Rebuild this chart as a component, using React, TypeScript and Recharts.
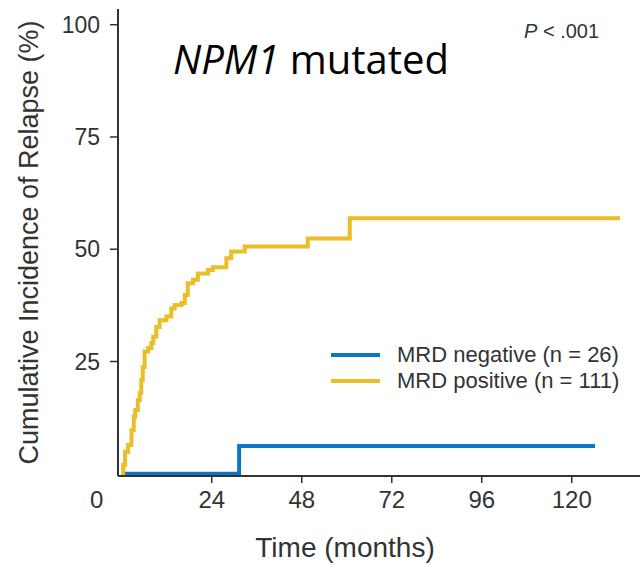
import React from 'react';
import { LineChart, Line, XAxis, YAxis, Legend } from 'recharts';

// Cumulative incidence of relapse, NPM1-mutated AML, by MRD status
const monthTicks = [0, 24, 48, 72, 96, 120];
const cirTicks = [25, 50, 75, 100];

const negTimes = [0, 31.3, 126.2];
const negCir = [0, 6.2, 6.2];

const posTimes = [
  0, 0.4, 0.9, 1.7, 2.6, 3.2, 3.6, 4.3, 4.8, 5.2, 5.6, 6.1, 7.0, 7.9, 8.4, 9.2, 10.1,
  11.9, 13.2, 14.1, 15.9, 16.8, 17.6, 19.0, 20.3, 23.0, 24.3, 27.9, 29.2, 32.8, 49.6,
  60.8, 132.9,
];
const posCir = [
  0, 2.0, 4.9, 6.4, 9.7, 12.7, 14.2, 16.4, 18.0, 20.9, 23.8, 27.2, 28.0, 29.1, 30.5, 32.7,
  34.2, 35.0, 36.8, 37.6, 38.0, 39.8, 42.4, 43.2, 44.6, 45.4, 46.0, 48.0, 49.5, 50.6, 52.4,
  56.9, 56.9,
];

const negData = negTimes.map((t, i) => ({ t, cir: negCir[i] }));
const posData = posTimes.map((t, i) => ({ t, cir: posCir[i] }));

const BLUE = '#0a77c4';
const GOLD = '#ebbd26';
const INK = '#333333';
const FONT = '"Liberation Sans", Arial, sans-serif';

const MonthTick = (props: any) => {
  const { x, y, payload } = props;
  const zero = payload.value === 0;
  return (
    <g>
      {!zero && <line x1={x} x2={x} y1={y - 15} y2={y - 8} stroke={INK} strokeWidth={1.5} />}
      <text
        x={zero ? x - 25 : x}
        y={y}
        dy="0.71em"
        textAnchor="middle"
        fill={INK}
        fontSize={24}
        fontFamily={FONT}
      >
        {payload.value}
      </text>
    </g>
  );
};

const renderLegend = (props: any) => (
  <div style={{ fontFamily: FONT, fontSize: 22, color: INK }}>
    {(props.payload || []).map((p: any) => (
      <div key={p.value} style={{ display: 'flex', alignItems: 'center', height: 26 }}>
        <span style={{ display: 'inline-block', width: 49, height: 4, background: p.color, marginRight: 17 }} />
        <span style={{ whiteSpace: 'nowrap' }}>{p.value}</span>
      </div>
    ))}
  </div>
);

export default function App() {
  return (
    <div style={{ position: 'absolute', left: 0, top: 0, width: 640, height: 565, background: '#fff' }}>
      <LineChart width={640} height={565} margin={{ top: 9, right: 0, bottom: 0, left: 0 }}>
        <XAxis
          type="number"
          dataKey="t"
          domain={[-1, 138.2]}
          allowDataOverflow
          ticks={monthTicks}
          height={89}
          tickSize={7}
          tickMargin={8}
          tickLine={false}
          tick={<MonthTick />}
          axisLine={{ stroke: INK, strokeWidth: 2 }}
          label={{
            content: (p: any) => (
              <text
                x={p.viewBox.x + 227}
                y={p.viewBox.y + 81}
                textAnchor="middle"
                fill={INK}
                fontSize={28}
                fontFamily={FONT}
              >
                Time (months)
              </text>
            ),
          }}
        />
        <YAxis
          type="number"
          domain={[-0.5, 103.5]}
          allowDataOverflow
          ticks={cirTicks}
          width={118}
          tickSize={8}
          tickMargin={10}
          tick={{ fill: INK, fontSize: 23, fontFamily: FONT }}
          tickLine={{ stroke: INK, strokeWidth: 1.5 }}
          axisLine={{ stroke: INK, strokeWidth: 2 }}
          label={{
            content: (p: any) => {
              const cx = p.viewBox.x + 29;
              const cy = p.viewBox.y + p.viewBox.height / 2;
              return (
                <text
                  x={cx}
                  y={cy}
                  transform={`rotate(-90, ${cx}, ${cy})`}
                  textAnchor="middle"
                  dominantBaseline="central"
                  fill={INK}
                  fontSize={27}
                  fontFamily={FONT}
                >
                  Cumulative Incidence of Relapse (%)
                </text>
              );
            },
          }}
        />
        <Legend
          layout="vertical"
          align="center"
          verticalAlign="middle"
          wrapperStyle={{ left: 331, top: 342, width: 320 }}
          content={renderLegend}
        />
        <Line
          data={negData}
          dataKey="cir"
          name="MRD negative (n = 26)"
          type="stepAfter"
          stroke={BLUE}
          strokeWidth={4}
          dot={false}
          isAnimationActive={false}
        />
        <Line
          data={posData}
          dataKey="cir"
          name="MRD positive (n = 111)"
          type="stepAfter"
          stroke={GOLD}
          strokeWidth={4}
          dot={false}
          isAnimationActive={false}
        />
      </LineChart>
      <svg width={640} height={565} style={{ position: 'absolute', left: 0, top: 0, pointerEvents: 'none' }}>
        <text x={173} y={74} fontFamily='"Open Sans", sans-serif' fontSize={40} fill="#000">
          <tspan fontStyle="italic">NPM1</tspan> mutated
        </text>
        <text x={524} y={38} fontFamily={FONT} fontSize={20} fill={INK}>
          <tspan fontStyle="italic">P</tspan> &lt; .001
        </text>
      </svg>
    </div>
  );
}
